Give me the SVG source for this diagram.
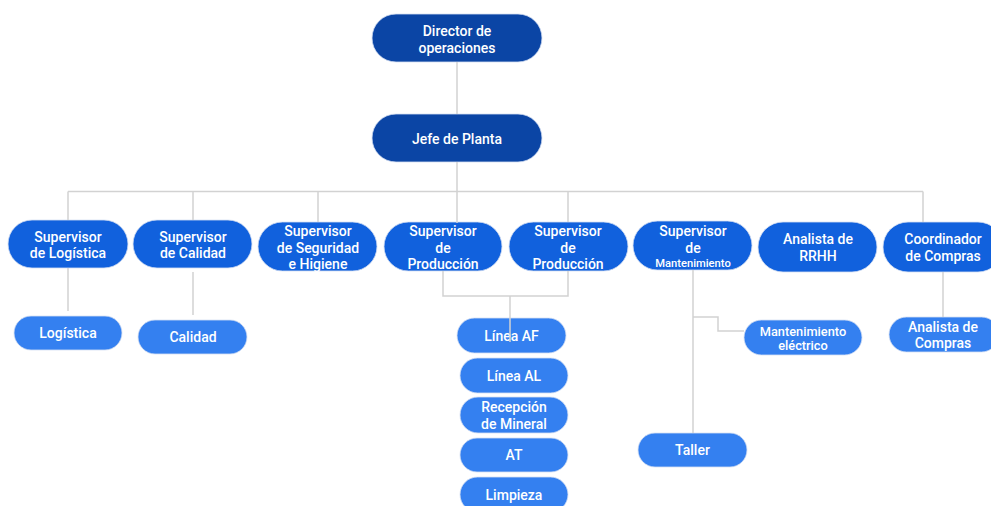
<svg xmlns="http://www.w3.org/2000/svg" width="991" height="506" viewBox="0 0 991 506">
<style>
.d{fill:#0b45a5;stroke:#d6e0f2;stroke-width:0.8}
.s{fill:#1161dd;stroke:#d6e0f2;stroke-width:0.8}
.l{fill:#3480f0;stroke:#d6e0f2;stroke-width:0.8}
text{font-family:Roboto,"Liberation Sans",sans-serif;font-weight:500;font-size:14px;fill:#ffffff;text-anchor:middle}
.sm{font-size:11.2px}
.me{font-size:12.8px}
.c{fill:none;stroke:#d2d2d2;stroke-width:1.5}
</style>
<rect width="991" height="506" fill="#ffffff"/>
<g id="n-director"><rect class="d" x="372" y="14" width="170" height="48" rx="24"/><text x="457" y="36">Director de</text><text x="457" y="52.5">operaciones</text></g>
<g id="n-jefe"><rect class="d" x="372" y="114" width="170" height="48" rx="24"/><text x="457" y="143.5">Jefe de Planta</text></g>
<g id="n-suplog"><rect class="s" x="8" y="220" width="120" height="48" rx="24"/><text x="68" y="242">Supervisor</text><text x="68" y="258">de Logística</text></g>
<g id="n-supcal"><rect class="s" x="133" y="220" width="119" height="48" rx="24"/><text x="193" y="242">Supervisor</text><text x="193" y="258">de Calidad</text></g>
<g id="n-supseg"><rect class="s" x="258" y="222" width="119" height="49" rx="24.5"/><text x="318" y="236">Supervisor</text><text x="318" y="252.5">de Seguridad</text><text x="318" y="269">e Higiene</text></g>
<g id="n-supprod1"><rect class="s" x="384" y="222" width="118" height="49" rx="24.5"/><text x="443" y="236">Supervisor</text><text x="443" y="252.5">de</text><text x="443" y="269">Producción</text></g>
<g id="n-supprod2"><rect class="s" x="509" y="222" width="119" height="49" rx="24.5"/><text x="568" y="236">Supervisor</text><text x="568" y="252.5">de</text><text x="568" y="269">Producción</text></g>
<g id="n-supmant"><rect class="s" x="633" y="221" width="119" height="49" rx="24.5"/><text x="693" y="236">Supervisor</text><text x="693" y="252.5">de</text><text class="sm" x="693" y="266.5">Mantenimiento</text></g>
<g id="n-rrhh"><rect class="s" x="758" y="222" width="119" height="50" rx="25"/><text x="818" y="244">Analista de</text><text x="818" y="260.5">RRHH</text></g>
<g id="n-coord"><rect class="s" x="883" y="222" width="120" height="50" rx="25"/><text x="943" y="244">Coordinador</text><text x="943" y="260.5">de Compras</text></g>
<g id="n-logistica"><rect class="l" x="14" y="316" width="108" height="34" rx="17"/><text x="68" y="338">Logística</text></g>
<g id="n-calidad"><rect class="l" x="138" y="320" width="109" height="34" rx="17"/><text x="193" y="342">Calidad</text></g>
<g id="n-lineaaf"><rect class="l" x="457" y="318" width="109" height="35" rx="17.5"/><text x="511.5" y="340.5">Línea AF</text></g>
<g id="n-lineaal"><rect class="l" x="460" y="358" width="108" height="35" rx="17.5"/><text x="514" y="380.5">Línea AL</text></g>
<g id="n-recepcion"><rect class="l" x="460" y="397" width="108" height="36" rx="18"/><text x="514" y="412">Recepción</text><text x="514" y="428.5">de Mineral</text></g>
<g id="n-at"><rect class="l" x="460" y="438" width="108" height="34" rx="17"/><text x="514" y="460">AT</text></g>
<g id="n-limpieza"><rect class="l" x="460" y="477" width="108" height="35" rx="17.5"/><text x="514" y="499.5">Limpieza</text></g>
<g id="n-mantelec"><rect class="l" x="744" y="320" width="118" height="35" rx="17.5"/><text class="me" x="803" y="335.5">Mantenimiento</text><text class="me" x="803" y="350">eléctrico</text></g>
<g id="n-taller"><rect class="l" x="638" y="433" width="109" height="34" rx="17"/><text x="692.5" y="455">Taller</text></g>
<g id="n-analcompras"><rect class="l" x="889" y="317" width="110" height="35" rx="17.5"/><text x="943" y="332">Analista de</text><text x="943" y="348">Compras</text></g>
<g id="connectors">
<path class="c" d="M457 62V114"/>
<path class="c" d="M457 162V223"/>
<path class="c" d="M68 191.5H923"/>
<path class="c" d="M68 191.5V220M193 191.5V220M318 191.5V222M568 191.5V222M923 191.5V222"/>
<path class="c" d="M68 268V311M193 272V315"/>
<path class="c" d="M443 271V296H568V271M510 296V342"/>
<path class="c" d="M693 270V433M693 317H718V331H744"/>
<path class="c" d="M943 272V317"/>
</g>
</svg>
